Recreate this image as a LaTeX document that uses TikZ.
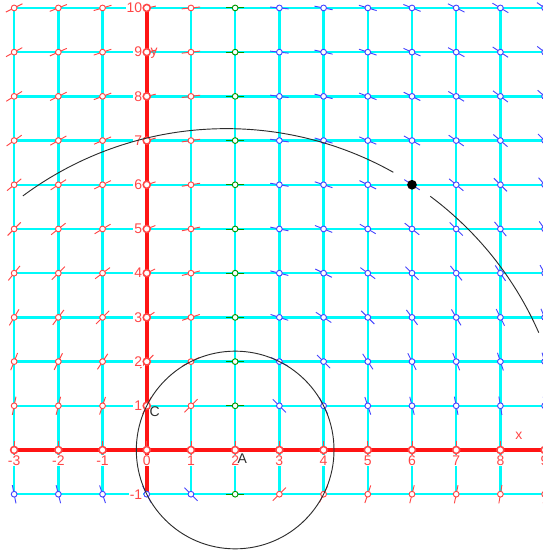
\documentclass[tikz,border=0pt]{standalone}
\usepackage{fontspec}
\setmainfont{Liberation Sans}
\usetikzlibrary{calc}
\definecolor{cgrid}{RGB}{0,250,250}
\definecolor{caxis}{RGB}{255,20,20}
\definecolor{cred}{RGB}{255,70,70}
\definecolor{cblue}{RGB}{70,70,255}
\definecolor{cgreen}{RGB}{0,150,0}
\definecolor{ccurve}{RGB}{45,45,45}

\begin{document}
\begin{tikzpicture}[font=\fontsize{9}{10}\selectfont,
   gridline/.style={cgrid, line width=1.6pt},
   axisline/.style={caxis, line width=2.4pt},
   curve/.style={ccurve, line width=0.6pt},
   tick/.style={line width=0.6pt},
   ring/.style={line width=0.6pt, fill=white},
   ylab/.style={text=cred, fill=white, anchor=east, inner sep=0.6pt},
   xlab/.style={text=cred, fill=white, anchor=north, inner sep=0.6pt},
   ptlab/.style={text=ccurve, inner sep=0pt},
   dot/.style={circle, fill=black, inner sep=0pt, minimum size=0.22cm}]
  \useasboundingbox (-3.32,-2.33) rectangle (8.96,10.18);
  % grid and axes
  \foreach \x in {-3,...,9} \draw[gridline] (\x,-1) -- (\x,10);
  \foreach \y in {-1,...,10} \draw[gridline] (-3,\y) -- (9,\y);
  \draw[axisline] (-3,0) -- (9,0);
  \draw[axisline] (0,-1) -- (0,10);
  % tangent marks around A
  \foreach \x in {-3,...,9} \foreach \y in {-1,...,10} {
    \pgfmathtruncatemacro{\s}{(2-\x)*\y}
    \ifnum\y=0 \def\a{90}\def\c{cred}
    \else
      \pgfmathsetmacro{\a}{atan2(2-\x,\y)}
      \ifnum\s>0 \def\c{cred}\else\ifnum\s<0 \def\c{cblue}\else\def\c{cgreen}\fi\fi
    \fi
    \draw[tick,draw=\c] (\x,\y) ++(\a:0.21) -- ++(\a+180:0.42);
  }
  % axis labels
  \foreach \y in {10,9,...,1,-1} \node[ylab] (ly\y) at (-0.075,\y) {\y};
  \foreach \x in {-3,...,9} \node[xlab] (lx\x) at (\x,-0.1) {\x};
  \node[text=cred, anchor=west, inner sep=0pt] (ylabel) at (0.08,8.97) {y};
  \node[text=cred, inner sep=0pt] (xlabel) at (8.42,0.33) {x};
  % rings
  \foreach \x in {-3,...,9} \foreach \y in {-1,...,10} {
    \pgfmathtruncatemacro{\s}{(2-\x)*\y}
    \ifnum\y=0 \def\c{cred}\else
      \ifnum\s>0 \def\c{cred}\else\ifnum\s<0 \def\c{cblue}\else\def\c{cgreen}\fi\fi
    \fi
    \draw[ring,draw=\c] (\x,\y) circle (0.065);
  }
  \foreach \x in {-3,...,9} \draw[ring,draw=cred,line width=1pt] (\x,0) circle (0.08);
  \foreach \y in {1,...,10} \draw[ring,draw=cred,line width=1pt] (0,\y) circle (0.08);
  % circle about A through C
  \coordinate (A) at (2,0);
  \coordinate (C) at (0,1);
  \draw[curve] (A) circle ({sqrt(5)});
  \node[ptlab, anchor=north west] (Alab) at ($(A)+(0.05,-0.08)$) {A};
  \node[ptlab, anchor=north west] (Clab) at ($(C)+(0.06,-0.02)$) {C};
  % big arc with gap at P
  \coordinate (O) at (1.8,-0.45);
  \node[dot] (P) at (6,6) {};
  \draw[curve] (O) ++(126.6:7.72) arc[start angle=126.6, end angle=60.7, radius=7.72];
  \draw[curve] (O) ++(53.3:7.72) arc[start angle=53.3, end angle=23.7, radius=7.72];
\end{tikzpicture}
\end{document}
